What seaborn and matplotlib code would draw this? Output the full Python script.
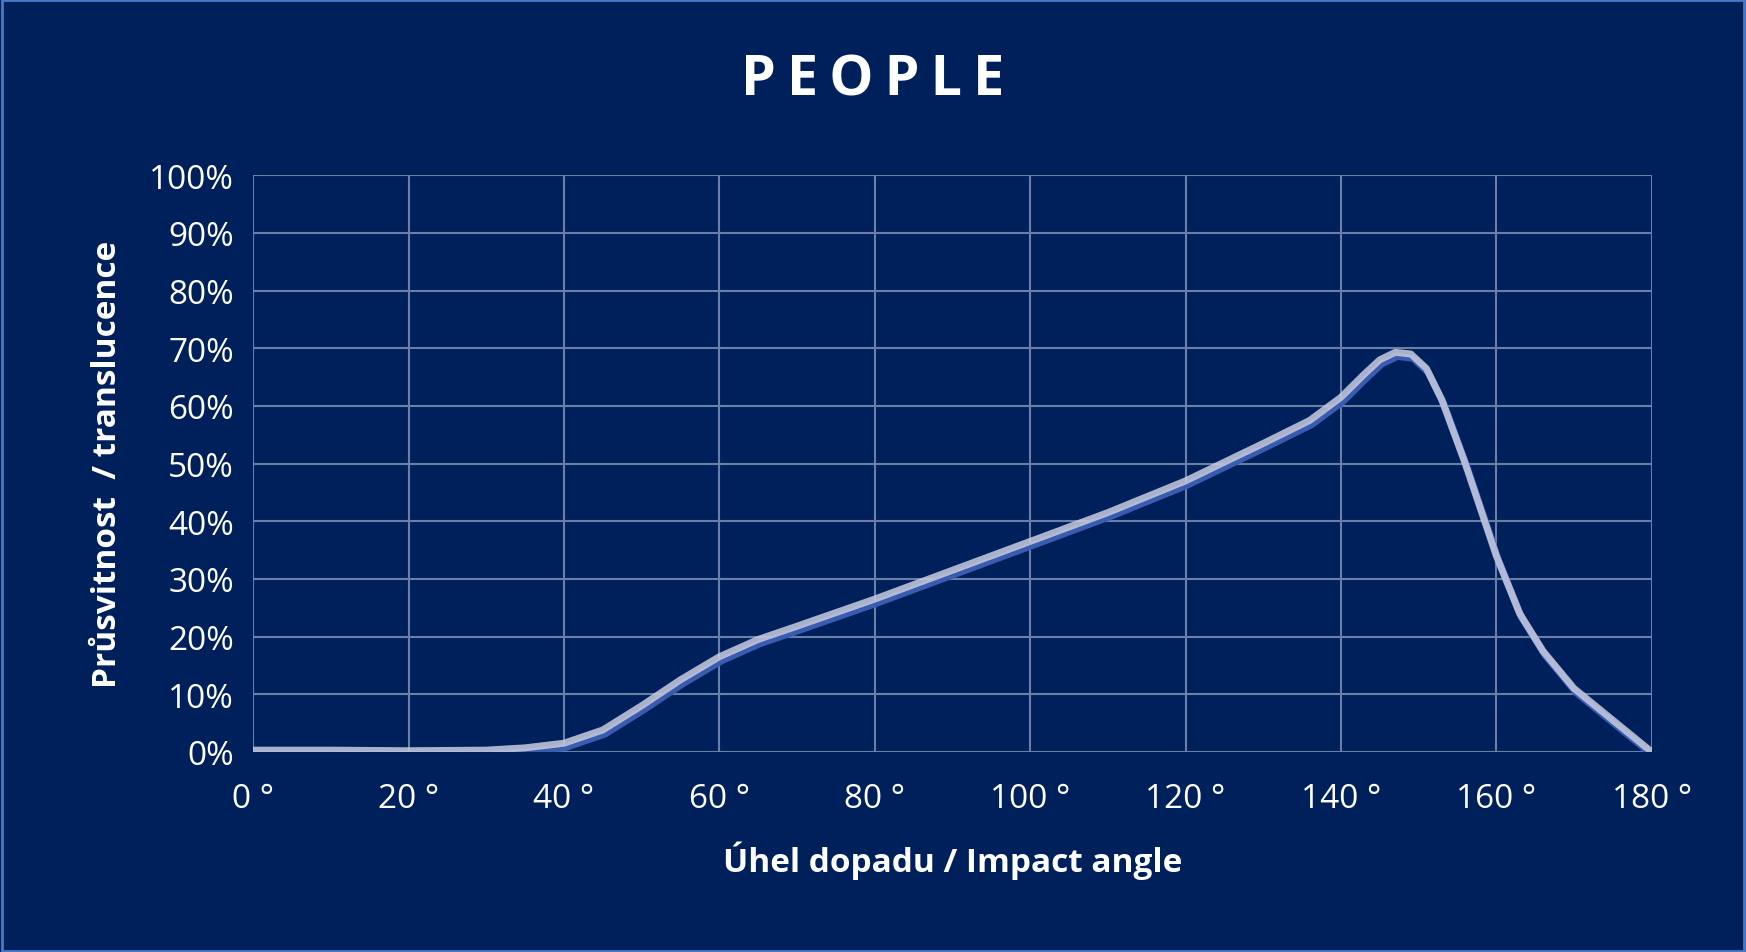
import matplotlib
matplotlib.use('Agg')
import matplotlib.pyplot as plt
import matplotlib.patheffects as pe
import seaborn as sns
import pandas as pd

angles = [0, 10, 20, 30, 35, 40, 45, 50, 55, 60, 65, 70, 80, 90, 100, 110, 120, 130, 136,
          140, 143, 145, 147, 149, 151, 153, 156, 160, 163, 166, 170, 175, 180]
translucence = [0.3, 0.3, 0.2, 0.3, 0.7, 1.5, 3.8, 8, 12.5, 16.5, 19.5, 21.8, 26.5, 31.5, 36.5,
                41.5, 47, 53.5, 57.5, 61.5, 65.5, 68, 69.3, 69, 66.5, 61, 50, 34, 24, 17.5, 11, 5.5, 0]
x_ticks = [0, 20, 40, 60, 80, 100, 120, 140, 160, 180]
y_ticks = [0, 10, 20, 30, 40, 50, 60, 70, 80, 90, 100]

df = pd.DataFrame({'angle': angles, 'value': translucence})

bg = '#00205B'
sns.set_style('white')
plt.rcParams['font.family'] = ['Open Sans', 'DejaVu Sans']

fig = plt.figure(figsize=(17.46, 9.53), dpi=100, facecolor=bg)
fig.patches.append(plt.Rectangle((0.001, 0.001), 0.998, 0.998, transform=fig.transFigure,
                                 fill=False, edgecolor='#4a78c8', linewidth=2))
ax = fig.add_axes([0.145, 0.21, 0.801, 0.605])
ax.set_facecolor(bg)

sns.lineplot(data=df, x='angle', y='value', ax=ax, color='#c8cce0', linewidth=5, alpha=0.85,
             path_effects=[pe.SimpleLineShadow(offset=(1.5, -3), shadow_color='#3a5cb0', alpha=1),
                           pe.Normal()])
for line in ax.lines:
    line.set_solid_joinstyle('round')

ax.set_xlim(0, 180)
ax.set_ylim(0, 100)
ax.set_xticks(x_ticks)
ax.set_xticklabels([f'{t} °' for t in x_ticks])
ax.set_yticks(y_ticks)
ax.set_yticklabels([f'{t}%' for t in y_ticks])
ax.grid(True, color='#6a7fa8', linewidth=1.5)
for s in ax.spines.values():
    s.set_visible(False)
ax.tick_params(colors='white', labelsize=24, length=0, pad=14)
ax.tick_params(axis='x', pad=22)
ax.set_xlabel('Úhel dopadu / Impact angle', color='white', fontsize=24, fontweight='bold', labelpad=18)
ax.set_ylabel('Průsvitnost  / translucence', color='white', fontsize=24, fontweight='bold', labelpad=18)
fig.text(0.5, 0.915, 'P\u2009E\u2009O\u2009P\u2009L\u2009E', color='white', fontsize=40,
         fontweight='bold', ha='center', va='center')

fig.savefig('out.png', dpi=100, facecolor=bg)
